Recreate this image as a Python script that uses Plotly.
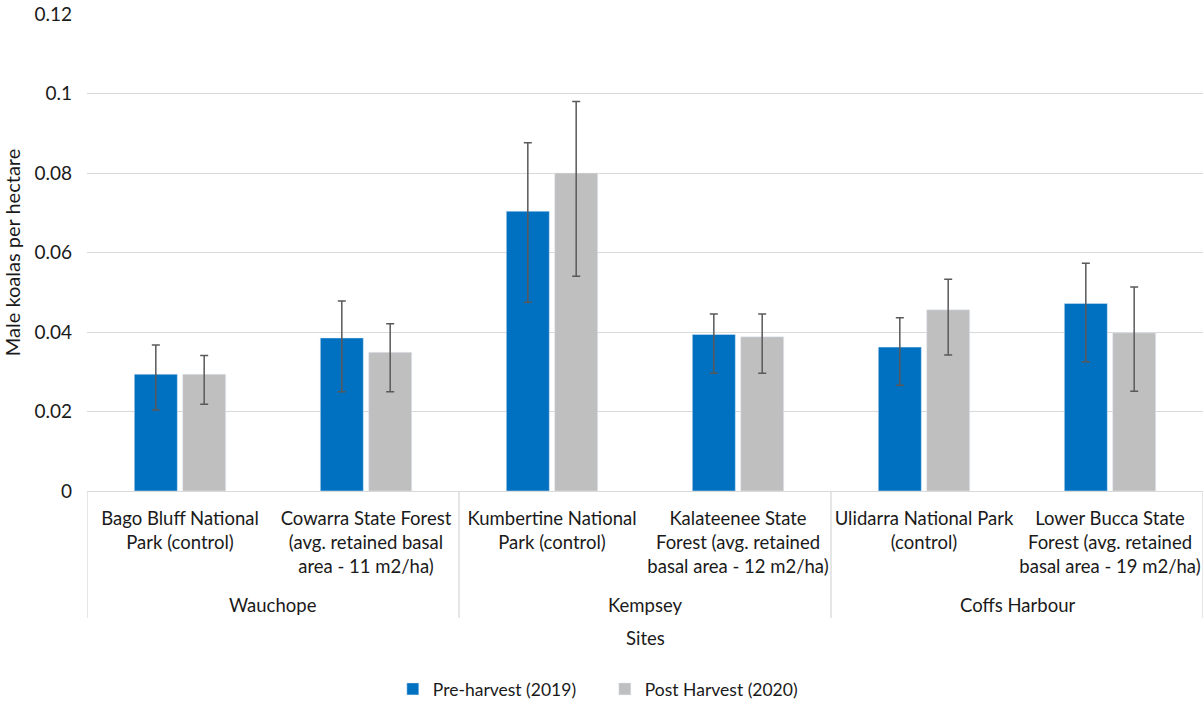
import plotly.graph_objects as go

sites = [
    "Bago Bluff National<br>Park (control)",
    "Cowarra State Forest<br>(avg. retained basal<br>area - 11 m2/ha)",
    "Kumbertine National<br>Park (control)",
    "Kalateenee State<br>Forest (avg. retained<br>basal area - 12 m2/ha)",
    "Ulidarra National Park<br>(control)",
    "Lower Bucca State<br>Forest (avg. retained<br>basal area - 19 m2/ha)",
]
regions = ["Wauchope", "Kempsey", "Coffs Harbour"]

pre_vals = [0.0294, 0.0385, 0.0704, 0.0394, 0.0362, 0.0472]
pre_hi = [0.0367, 0.0478, 0.0876, 0.0445, 0.0436, 0.0573]
pre_lo = [0.0204, 0.0250, 0.0475, 0.0296, 0.0266, 0.0325]

post_vals = [0.0294, 0.0349, 0.0800, 0.0388, 0.0456, 0.0398]
post_hi = [0.0341, 0.0421, 0.0980, 0.0445, 0.0533, 0.0513]
post_lo = [0.0218, 0.0250, 0.0540, 0.0296, 0.0342, 0.0251]

y_ticks = [0, 0.02, 0.04, 0.06, 0.08, 0.1, 0.12]

FONT = "Lato, 'Noto Sans', sans-serif"
TXT = "#1a1a1a"
GRID = "#D9D9D9"

xs = list(range(len(sites)))

def err(vals, hi, lo):
    return dict(
        type="data", symmetric=False,
        array=[h - v for h, v in zip(hi, vals)],
        arrayminus=[v - l for l, v in zip(lo, vals)],
        color="#595959", thickness=1.5, width=4,
    )

fig = go.Figure()
fig.add_trace(go.Bar(x=xs, y=pre_vals, name="Pre-harvest (2019)",
                     marker_color="#0070C0", error_y=err(pre_vals, pre_hi, pre_lo)))
fig.add_trace(go.Bar(x=xs, y=post_vals, name="Post Harvest (2020)",
                     marker_color="#BFBFBF", error_y=err(post_vals, post_hi, post_lo)))

plot_h = 707 - 14 - 216

def py(px):
    return -(px - 491) / plot_h

shapes = []
for xb in [-0.5, 1.5, 3.5, 5.5]:
    shapes.append(dict(type="line", xref="x", yref="paper", x0=xb, x1=xb,
                       y0=0, y1=py(618), line=dict(color=GRID, width=1.3)))

annotations = []
for i, r in enumerate(regions):
    annotations.append(dict(x=2 * i + 0.5, y=py(605), xref="x", yref="paper",
                            text=r, showarrow=False, yanchor="middle",
                            font=dict(size=18.5, color=TXT, family=FONT)))
annotations.append(dict(x=0.5, y=py(638), xref="paper", yref="paper",
                        text="Sites", showarrow=False, yanchor="middle",
                        font=dict(size=18.5, color=TXT, family=FONT)))

fig.update_layout(
    width=1204, height=707,
    margin=dict(l=87, r=1, t=14, b=216),
    paper_bgcolor="white", plot_bgcolor="white",
    barmode="group", bargap=0.48, bargroupgap=0.11,
    font=dict(family=FONT, size=18, color=TXT),
    showlegend=True,
    legend=dict(orientation="h", x=0.464, xanchor="center",
                yref="container", y=0.0, yanchor="bottom",
                font=dict(size=17.5, color=TXT, family=FONT), itemwidth=30,
                entrywidth=167, entrywidthmode="pixels",
                traceorder="normal"),
    shapes=shapes, annotations=annotations,
    xaxis=dict(tickmode="array", tickvals=xs, ticktext=sites, range=[-0.5, 5.5],
               showgrid=False, showline=True, linecolor=GRID, linewidth=1.3,
               ticks="", ticklabelstandoff=11,
               tickfont=dict(size=18.5, color=TXT, family=FONT),
               zeroline=False, automargin=False),
    yaxis=dict(range=[0, 0.12], tickvals=y_ticks, showgrid=True, gridcolor=GRID,
               gridwidth=1.3, zeroline=False, showline=False, ticks="",
               ticklabelstandoff=14,
               tickfont=dict(size=19, color=TXT, family=FONT),
               title=dict(text="Male koalas per hectare", standoff=10,
                          font=dict(size=20, color=TXT, family=FONT)),
               automargin=False),
)

fig.write_html("out.html")
